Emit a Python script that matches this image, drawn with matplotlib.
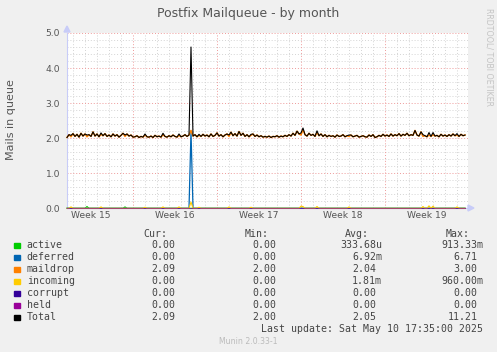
import numpy as np
import matplotlib.pyplot as plt
from matplotlib.patches import Rectangle, Polygon

W, H = 497, 352

# 4-hour averages across the month window (200 samples)
maildrop = [
    2.02, 2.10, 2.04, 2.13, 2.05, 2.11, 2.03, 2.14, 2.06, 2.12,
    2.04, 2.10, 2.05, 2.18, 2.06, 2.12, 2.04, 2.11, 2.07, 2.13,
    2.05, 2.09, 2.04, 2.12, 2.06, 2.10, 2.03, 2.08, 2.14, 2.05,
    2.12, 2.06, 2.09, 2.03, 2.04, 2.07, 2.02, 2.05, 2.03, 2.09,
    2.04, 2.03, 2.06, 2.02, 2.08, 2.04, 2.06, 2.03, 2.10, 2.05,
    2.03, 2.07, 2.04, 2.09, 2.05, 2.03, 2.08, 2.04, 2.06, 2.10,
    2.05, 2.09, 2.22, 2.06, 2.10, 2.04, 2.08, 2.05, 2.11, 2.06,
    2.09, 2.04, 2.12, 2.05, 2.08, 2.15, 2.06, 2.10, 2.04, 2.09,
    2.12, 2.05, 2.17, 2.07, 2.13, 2.06, 2.19, 2.08, 2.14, 2.05,
    2.10, 2.04, 2.08, 2.12, 2.05, 2.09, 2.04, 2.07, 2.03, 2.05,
    2.03, 2.06, 2.02, 2.05, 2.04, 2.07, 2.03, 2.06, 2.04, 2.08,
    2.05, 2.10, 2.06, 2.14, 2.08, 2.20, 2.12, 2.09, 2.24, 2.10,
    2.06, 2.14, 2.08, 2.11, 2.05, 2.16, 2.07, 2.12, 2.05, 2.10,
    2.04, 2.08, 2.05, 2.07, 2.03, 2.09, 2.05, 2.06, 2.10, 2.04,
    2.07, 2.05, 2.09, 2.04, 2.06, 2.08, 2.03, 2.05, 2.07, 2.04,
    2.03, 2.09, 2.05, 2.10, 2.02, 2.04, 2.08, 2.05, 2.11, 2.06,
    2.09, 2.05, 2.12, 2.06, 2.10, 2.07, 2.13, 2.06, 2.11, 2.08,
    2.14, 2.07, 2.10, 2.08, 2.22, 2.09, 2.06, 2.18, 2.05, 2.07,
    2.04, 2.09, 2.05, 2.10, 2.06, 2.08, 2.04, 2.11, 2.06, 2.09,
    2.05, 2.10, 2.06, 2.12, 2.07, 2.09, 2.05, 2.11, 2.07, 2.09,
]
deferred_at = [62]
deferred_val = [2.20]
incoming_at = [2, 17, 39, 48, 56, 62, 66, 81, 92, 117, 118, 125, 141, 178, 181, 183, 195]
incoming_val = [0.04, 0.04, 0.03, 0.04, 0.04, 0.18, 0.03, 0.04, 0.03, 0.06, 0.05, 0.05, 0.04, 0.05, 0.07, 0.06, 0.04]
active_at = [10, 29]
active_val = [0.05, 0.04]

week_labels = ["Week 15", "Week 16", "Week 17", "Week 18", "Week 19"]
week_starts = [5.5, 12.5, 19.5, 26.5]  # days from left edge (Sunday 00:00)

names = ["active", "deferred", "maildrop", "incoming", "corrupt", "held", "Total"]
colors = ["#00CC00", "#0066B3", "#FF8000", "#FFCC00", "#330099", "#990099", "#000000"]
cur = ["0.00", "0.00", "2.09", "0.00", "0.00", "0.00", "2.09"]
mins = ["0.00", "0.00", "2.00", "0.00", "0.00", "0.00", "2.00"]
avgs = ["333.68u", "6.92m", "2.04", "1.81m", "0.00", "0.00", "2.05"]
maxs = ["913.33m", "6.71", "3.00", "960.00m", "0.00", "0.00", "11.21"]

n = len(maildrop)
t = np.arange(n) / 6.0  # days
md = np.array(maildrop)
deferred = np.zeros(n); deferred[deferred_at] = deferred_val
incoming = np.zeros(n); incoming[incoming_at] = incoming_val
active = np.zeros(n); active[active_at] = active_val
corrupt = np.zeros(n)
held = np.zeros(n)
total = active + deferred + md + incoming + corrupt + held

def fx(px):
    return px / W

def fy(py):
    return 1 - py / H

fig = plt.figure(figsize=(W / 100, H / 100), dpi=100, facecolor="#F0F0F0")
ax = fig.add_axes([fx(67), fy(208.3), 401 / W, 175.3 / H])
ax.set_facecolor("white")
ax.set_xlim(0, 401 / 12)
ax.set_ylim(0, 5)

# grid
for d in np.arange(0.5, 33.5, 1):
    if d not in week_starts:
        ax.axvline(d, color="#D4D4D4", lw=0.7, ls=(0, (1, 2)), zorder=0)
for v in np.arange(0.2, 5.01, 0.2):
    if abs(v - round(v)) > 1e-6:
        ax.axhline(v, color="#D4D4D4", lw=0.7, ls=(0, (1, 2)), zorder=0)
for d in week_starts:
    ax.axvline(d, color="#EE9A9A", lw=0.7, ls=(0, (1, 2)), zorder=0)
for v in range(1, 6):
    ax.axhline(v, color="#EE9A9A", lw=0.7, ls=(0, (1, 2)), zorder=0)

series = [active, deferred, md, incoming, corrupt, held, total]
widths = [0.8, 0.9, 1.1, 0.8, 0.7, 0.8, 0.8]
alphas = [1, 1, 1, 1, 0.25, 0.5, 1]
for s, c, lw, a in zip(series, colors, widths, alphas):
    ax.plot(t, s, color=c, lw=lw, alpha=a, clip_on=False, zorder=3)

for sp in ["top", "right"]:
    ax.spines[sp].set_visible(False)
ax.spines["left"].set_color("#C8CCF8")
ax.spines["bottom"].set_color("#C8CCF8")

ax.set_yticks(range(6))
ax.set_yticklabels([f"{v:.1f}" for v in range(6)])
ax.tick_params(axis="y", length=0, pad=5, labelsize=6.6, labelcolor="#555555")
ax.set_xticks([s - 3.5 for s in week_starts] + [week_starts[-1] + 3.5])
ax.set_xticklabels(week_labels)
ax.tick_params(axis="x", length=0, pad=2, labelsize=6.6, labelcolor="#555555")

# axis arrows
fig.patches.append(Polygon([[fx(64), fy(32)], [fx(70), fy(32)], [fx(67), fy(26)]],
                           closed=True, transform=fig.transFigure, color="#C8CCF8"))
fig.patches.append(Polygon([[fx(468), fy(205)], [fx(468), fy(211)], [fx(474), fy(208)]],
                           closed=True, transform=fig.transFigure, color="#C8CCF8"))

fig.text(fx(248.5), fy(13), "Postfix Mailqueue - by month", ha="center", va="center",
         fontsize=9, color="#555555")
fig.text(fx(11), fy(120), "Mails in queue", ha="center", va="center", rotation=90,
         fontsize=8, color="#555555")
fig.text(fx(489), fy(57), "RRDTOOL/ TOBI OETIKER", ha="center", va="center", rotation=-90,
         fontsize=5.7, color="#C4C4C4")

# legend
mono = dict(family="DejaVu Sans Mono", fontsize=7.1, color="#444444", va="center")
cw = 5.93
fig.text(fx(167.5), fy(234), "Cur:", ha="right", **mono)
fig.text(fx(268.5), fy(234), "Min:", ha="right", **mono)
fig.text(fx(368.5), fy(234), "Avg:", ha="right", **mono)
fig.text(fx(469.5), fy(234), "Max:", ha="right", **mono)

def rx(right, s):
    return right if s[-1].isalpha() else right - cw

for i, name in enumerate(names):
    y = 245.3 + 12 * i
    fig.patches.append(Rectangle((fx(14), fy(y + 2.8)), 5.5 / W, 5.5 / H,
                                 transform=fig.transFigure, color=colors[i]))
    fig.text(fx(26.7), fy(y), name, ha="left", **mono)
    fig.text(fx(175.3), fy(y), cur[i], ha="right", **mono)
    fig.text(fx(276.3), fy(y), mins[i], ha="right", **mono)
    fig.text(fx(rx(382, avgs[i])), fy(y), avgs[i], ha="right", **mono)
    fig.text(fx(rx(483.3, maxs[i])), fy(y), maxs[i], ha="right", **mono)

fig.text(fx(483.3), fy(329.3), "Last update: Sat May 10 17:35:00 2025", ha="right", **mono)
fig.text(fx(248.5), fy(341), "Munin 2.0.33-1", ha="center", va="center",
         fontsize=5.6, color="#BBBBBB")

fig.savefig("out.png", dpi=100, facecolor=fig.get_facecolor())
